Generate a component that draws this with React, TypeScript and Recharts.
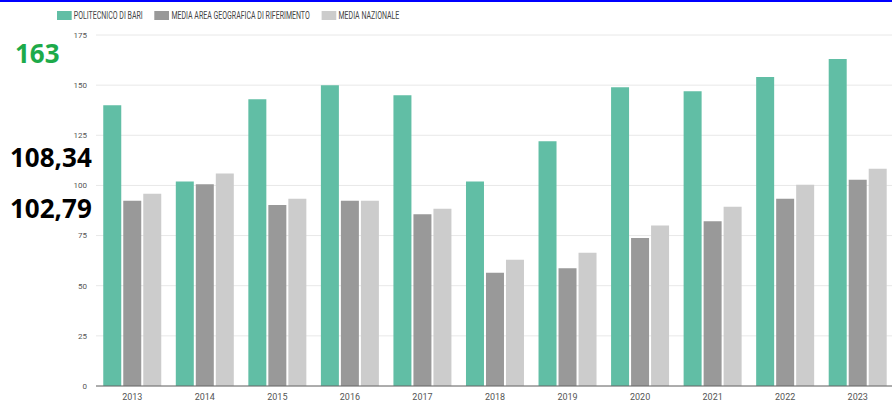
import { BarChart, Bar, XAxis, YAxis, CartesianGrid, Legend } from 'recharts'

const years = ['2013', '2014', '2015', '2016', '2017', '2018', '2019', '2020', '2021', '2022', '2023']
const politecnico = [140, 102, 143, 150, 145, 102, 122, 149, 147, 154, 163]
const mediaArea = [92.4, 100.6, 90.3, 92.4, 85.6, 56.5, 58.7, 73.8, 82.1, 93.4, 102.79]
const mediaNazionale = [95.9, 105.9, 93.4, 92.4, 88.4, 63, 66.4, 80, 89.4, 100.4, 108.34]
const seriesNames = ['POLITECNICO DI BARI', 'MEDIA AREA GEOGRAFICA DI RIFERIMENTO', 'MEDIA NAZIONALE']
const yTicks = [0, 25, 50, 75, 100, 125, 150, 175]
const callouts = ['163', '108,34', '102,79']

const data = years.map((y, i) => ({
  year: y,
  politecnico: politecnico[i],
  area: mediaArea[i],
  nazionale: mediaNazionale[i],
}))

// legend text in the original is a condensed face, so squeeze the whole row
function LegendContent(props: any) {
  const items = [...(props.payload || [])].sort(
    (a: any, b: any) => seriesNames.indexOf(a.value) - seriesNames.indexOf(b.value)
  )
  return (
    <div
      style={{
        display: 'flex',
        alignItems: 'center',
        fontFamily: 'Roboto, sans-serif',
        fontSize: 10,
        color: '#444',
        transform: 'scaleX(0.7)',
        transformOrigin: 'left center',
        whiteSpace: 'nowrap',
      }}
    >
      {items.map((e: any) => (
        <div key={e.value} style={{ display: 'flex', alignItems: 'center', marginRight: 17 }}>
          <span style={{ display: 'inline-block', width: 21, height: 9, background: e.color, marginRight: 3 }} />
          <span>{e.value}</span>
        </div>
      ))}
    </div>
  )
}

const calloutStyle = {
  position: 'absolute' as const,
  fontFamily: "'Noto Sans', sans-serif",
  fontWeight: 700,
  fontSize: 26,
  lineHeight: '30px',
}

export default function App() {
  return (
    <div style={{ position: 'absolute', left: 0, top: 0, width: 892, height: 403, overflow: 'hidden', background: '#fff' }}>
      <div style={{ position: 'absolute', left: 0, top: 0, width: 892, height: 2, background: '#0000ff' }} />
      <BarChart
        width={900}
        height={403}
        data={data}
        margin={{ top: 35, right: 6, bottom: 0, left: 0 }}
        barCategoryGap="10%"
        barGap={2}
      >
        <CartesianGrid vertical={false} stroke="#e8e8e8" />
        <XAxis
          dataKey="year"
          height={17}
          axisLine={{ stroke: '#666' }}
          tickLine={false}
          tick={{ fontSize: 9, fill: '#555', fontFamily: 'Roboto, sans-serif' }}
        />
        <YAxis
          width={96}
          domain={[0, 175]}
          ticks={yTicks}
          axisLine={false}
          tickLine={false}
          tickMargin={3}
          tick={{ fontSize: 8, fill: '#555', fontFamily: 'Roboto, sans-serif' }}
        />
        <Legend
          verticalAlign="middle"
          align="center"
          content={LegendContent}
          wrapperStyle={{ top: 10, left: 57, width: 600, height: 12 }}
        />
        <Bar dataKey="politecnico" name={seriesNames[0]} fill="#61bea5" isAnimationActive={false} />
        <Bar dataKey="area" name={seriesNames[1]} fill="#999999" isAnimationActive={false} />
        <Bar dataKey="nazionale" name={seriesNames[2]} fill="#cccccc" isAnimationActive={false} />
      </BarChart>
      <div style={{ ...calloutStyle, left: 15, top: 38, color: '#1daa4a' }}>{callouts[0]}</div>
      <div style={{ ...calloutStyle, left: 10, top: 142, color: '#000' }}>{callouts[1]}</div>
      <div style={{ ...calloutStyle, left: 10, top: 193, color: '#000' }}>{callouts[2]}</div>
    </div>
  )
}
